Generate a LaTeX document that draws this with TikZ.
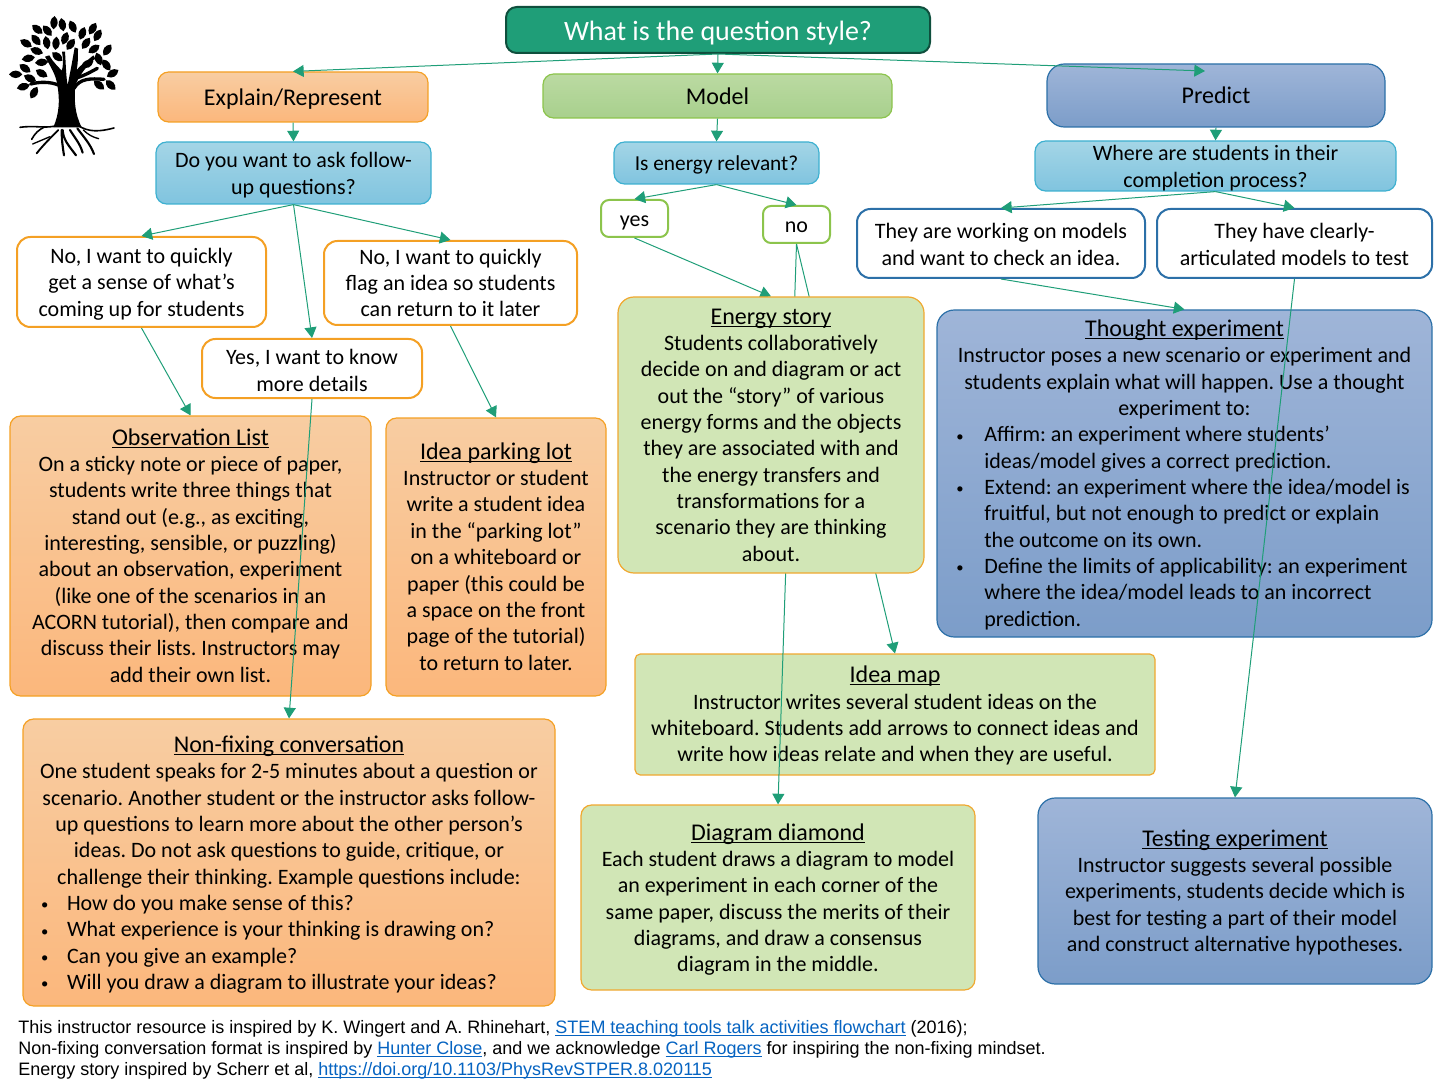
\documentclass[tikz,border=0pt]{standalone}
\usepackage{fontspec}
\setmainfont{Carlito}
\newfontfamily\footfont{Liberation Sans}
\usetikzlibrary{arrows.meta}
\pgfdeclarelayer{front}
\pgfsetlayers{main,front}

\definecolor{flowgreen}{HTML}{1F9E78}
\definecolor{topdark}{HTML}{0F4F3D}
\definecolor{orangeline}{HTML}{F4A024}
\definecolor{orangetop}{HTML}{F8CDA2}
\definecolor{orangebot}{HTML}{FBB77C}
\definecolor{limeline}{HTML}{8CC44C}
\definecolor{limetop}{HTML}{BBDAA2}
\definecolor{limebot}{HTML}{A8D08D}
\definecolor{paleline}{HTML}{F0A830}
\definecolor{palefill}{HTML}{D1E6B6}
\definecolor{blueline}{HTML}{2C70A8}
\definecolor{bluetop}{HTML}{9FB5D8}
\definecolor{bluebot}{HTML}{7C9DC9}
\definecolor{cyanline}{HTML}{3DB0D0}
\definecolor{cyantop}{HTML}{A4D5E6}
\definecolor{cyanbot}{HTML}{80C4DF}
\definecolor{linkblue}{HTML}{0563C1}

\newcommand\bodyfont{\fontsize{16.5}{19.75}\selectfont\frenchspacing}
\newcommand\headfont{\fontsize{18}{19.75}\selectfont}
\newcommand\ttl[1]{{\headfont\underline{\smash{#1}}}}
\newcommand\bul[1]{\makebox[\hsize][l]{\hspace{\bulx}\makebox[\bulgap][l]{\raisebox{0.5pt}{\fontsize{11}{11}\selectfont\textbullet}}#1}}
\newcommand\cont[1]{\makebox[\hsize][l]{\hspace{\bulx}\hspace{\bulgap}#1}}
\newcommand\lnk[1]{\textcolor{linkblue}{\underline{\smash{#1}}}}
\def\bulgap{21pt}
\def\bulx{14.5pt}

\tikzset{
  sz/.style 2 args={text width=#1*0.75pt,minimum height=#2*0.75pt},
  up/.style={execute at begin node={\rule{0pt}{#1}}},
  lift/.style={execute at end node={\rule[-#1]{0pt}{#1}}},
  basebox/.style={align=flush center,inner sep=0pt,rounded corners=8pt,font=\bodyfont,line width=0.9pt,up=14.5pt},
  topbox/.style={basebox,draw=topdark,line width=1.5pt,fill=flowgreen,text=white,font=\fontsize{21}{24}\selectfont,up=18.5pt},
  orangebox/.style={basebox,draw=orangeline,top color=orangetop,bottom color=orangebot},
  limebox/.style={basebox,draw=limeline,top color=limetop,bottom color=limebot},
  palebox/.style={basebox,draw=paleline,fill=palefill},
  bluebox/.style={basebox,draw=blueline,top color=bluetop,bottom color=bluebot,rounded corners=13pt},
  cyanbox/.style={basebox,draw=cyanline,top color=cyantop,bottom color=cyanbot},
  whiteorange/.style={basebox,draw=orangeline,line width=1.5pt,fill=white,rounded corners=10pt},
  whitelime/.style={basebox,draw=limeline,line width=1.5pt,fill=white,rounded corners=6pt},
  whiteblue/.style={basebox,draw=blueline,line width=1.5pt,fill=white,rounded corners=10pt},
  flow/.style={draw=flowgreen,line width=0.75pt,-{Triangle[length=8pt,width=9pt]}},
  root/.style={line width=#1,line cap=round,line join=round},
  root/.default=1pt
}

\begin{document}
\begin{tikzpicture}[x=0.75pt,y=-0.75pt]
\useasboundingbox (0,0) rectangle (1438,1080);

% tree
\begin{scope}[shift={(0,10)},x=0.25pt,y=-0.25pt]
\foreach \lx/\ly/\la in {162/38/85,187/44/100,218/50/115,112/58/140,142/62/130,247/70/70,278/56/60,293/76/60,
108/90/130,140/98/100,168/100/85,195/85/70,212/103/55,258/100/55,78/100/150,322/120/55,282/117/35,110/123/160,
85/145/10,125/157/5,172/140/140,296/147/110,262/162/25,319/165/125,338/190/30,75/175/145,47/193/0,125/190/150,
90/205/155,297/225/140,332/225/135,70/230/15,102/248/60}{
\fill[shift={(\lx,\ly)},rotate=\la] (-20,0) .. controls (-9,-15) and (9,-15) .. (20,0) .. controls (9,15) and (-9,15) .. (-20,0);
}
\fill (160,352) .. controls (178,310) and (180,270) .. (172,225) .. controls (168,195) and (152,170) .. (135,140)
  -- (148,136) .. controls (160,158) and (175,170) .. (185,182) .. controls (190,170) and (190,150) .. (186,125)
  -- (195,125) .. controls (198,170) and (198,200) .. (203,225) .. controls (208,200) and (216,160) .. (224,112)
  -- (234,116) .. controls (234,145) and (234,160) .. (230,180) .. controls (245,162) and (262,152) .. (280,136)
  -- (286,146) .. controls (262,165) and (242,190) .. (226,225) .. controls (222,270) and (224,310) .. (245,352) -- cycle;
\draw[root=2.5pt] (175,225) .. controls (150,215) and (120,215) .. (92,222);
\draw[root=2.5pt] (222,235) .. controls (240,205) and (270,205) .. (312,208);
\draw[root=2.5pt] (225,205) .. controls (245,200) and (265,190) .. (292,175);
\draw[root=1.2pt] (175,345) .. controls (140,358) and (110,345) .. (60,352);
\draw[root=1.2pt] (135,350) .. controls (115,360) and (105,370) .. (95,388);
\draw[root=1.4pt] (175,360) .. controls (150,385) and (130,405) .. (110,430);
\draw[root=1pt] (150,380) -- (98,402);
\draw[root=1.6pt] (188,360) .. controls (190,390) and (205,405) .. (228,436);
\draw[root=1.6pt] (185,360) .. controls (185,390) and (188,410) .. (192,436);
\draw[root=1.6pt] (210,360) .. controls (225,385) and (240,400) .. (248,428);
\draw[root=1.6pt] (232,355) .. controls (250,380) and (270,400) .. (282,432);
\draw[root=1.2pt] (232,345) .. controls (265,368) and (300,365) .. (342,354);
\draw[root=1pt] (250,360) .. controls (265,375) and (280,382) .. (296,386);
\end{scope}

% header and the three question styles
\node[topbox,sz={424}{46}] (q) at (718,30) {What is the question style?};
\node[orangebox,sz={270}{50},font=\headfont,up=16pt] (explain) at (293,97) {Explain/Represent};
\node[limebox,sz={349}{44},font=\headfont,lift=1.5pt] (model) at (717.5,96) {Model};
\node[bluebox,sz={338}{63},font=\headfont,lift=3pt] (predict) at (1216,95.5) {Predict};
\coordinate (predin) at (1205,71);

% questions
\node[cyanbox,sz={275}{62}] (ask) at (293.5,173) {Do you want to ask follow-\\up questions?};
\node[cyanbox,sz={205}{42},font=\fontsize{16}{18}\selectfont] (relevant) at (716.5,163) {Is energy relevant?};
\node[cyanbox,sz={361}{50}] (where) at (1215.5,166) {Where are students in their\\completion process?};

% answers
\node[whiteorange,sz={249}{90}] (quick) at (141.5,282) {No, I want to quickly\\get a sense of what’s\\coming up for students};
\node[whiteorange,sz={253}{84},lift=3pt] (flag) at (450.5,283) {No, I want to quickly\\flag an idea so students\\can return to it later};
\node[whiteorange,sz={220}{59}] (details) at (312,368.5) {Yes, I want to know\\more details};
\node[whitelime,sz={67}{37}] (yes) at (634.5,218.5) {yes};
\node[whitelime,sz={67}{37},lift=3pt] (no) at (796.5,224.5) {no};
\node[whiteblue,sz={288}{69},lift=1.5pt] (working) at (1001,243.5) {They are working on models\\and want to check an idea.};
\node[whiteblue,sz={275}{69},lift=1.5pt] (clearly) at (1294.5,243.5) {They have clearly-\\articulated models to test};

% activities
\node[orangebox,sz={361}{280},lift=3pt] (obs) at (190.5,556) {\ttl{Observation List}\\On a sticky note or piece of paper,\\students write three things that\\stand out (e.g., as exciting,\\interesting, sensible, or puzzling)\\about an observation, experiment\\(like one of the scenarios in an\\ACORN tutorial), then compare and\\discuss their lists. Instructors may\\add their own list.};
\node[orangebox,sz={220}{278},lift=3pt] (parking) at (496,557) {\ttl{Idea parking lot}\\Instructor or student\\write a student idea\\in the “parking lot”\\on a whiteboard or\\paper (this could be\\a space on the front\\page of the tutorial)\\to return to later.};
\node[orangebox,sz={532}{287},up=15.5pt] (fixing) at (289,862.5) {\def\bulx{13.5pt}\def\bulgap{19.5pt}\ttl{Non-fixing conversation}\\One student speaks for 2-5 minutes about a question or\\scenario. Another student or the instructor asks follow-\\up questions to learn more about the other person’s\\ideas. Do not ask questions to guide, critique, or\\challenge their thinking. Example questions include:\\\bul{How do you make sense of this?}\\\bul{What experience is your thinking is drawing on?}\\\bul{Can you give an example?}\\\bul{Will you draw a diagram to illustrate your ideas?}};
\begin{pgfonlayer}{front}
\node[palebox,sz={306}{276},rounded corners=12pt,lift=3pt] (energy) at (771,435) {\ttl{Energy story}\\Students collaboratively\\decide on and diagram or act\\out the “story” of various\\energy forms and the objects\\they are associated with and\\the energy transfers and\\transformations for a\\scenario they are thinking\\about.};
\end{pgfonlayer}
\node[palebox,sz={520}{121},rounded corners=4pt] (idea) at (895,714.5) {\ttl{Idea map}\\Instructor writes several student ideas on the\\whiteboard. Students add arrows to connect ideas and\\write how ideas relate and when they are useful.};
\node[palebox,sz={394}{185},up=15.5pt] (diamond) at (778,897.5) {\ttl{Diagram diamond}\\Each student draws a diagram to model\\an experiment in each corner of the\\same paper, discuss the merits of their\\diagrams, and draw a consensus\\diagram in the middle.};
\node[bluebox,sz={495}{327}] (thought) at (1184.5,473.5) {\ttl{Thought experiment}\\Instructor poses a new scenario or experiment and\\students explain what will happen. Use a thought\\experiment to:\\\bul{Affirm: an experiment where students’}\\\cont{ideas/model gives a correct prediction.}\\\bul{Extend: an experiment where the idea/model is}\\\cont{fruitful, but not enough to predict or explain}\\\cont{the outcome on its own.}\\\bul{Define the limits of applicability: an experiment}\\\cont{where the idea/model leads to an incorrect}\\\cont{prediction.}};
\node[bluebox,sz={394}{186}] (testing) at (1235,891) {\ttl{Testing experiment}\\Instructor suggests several possible\\experiments, students decide which is\\best for testing a part of their model\\and construct alternative hypotheses.};

% connectors
\draw[flow] (q.south)--(explain.north);
\draw[flow] (q.south)--(model.north);
\draw[flow] (q.south)--(predin);
\draw[flow] (explain.south)--(ask.north);
\draw[flow] (model.south)--(relevant.north);
\draw[flow] (predict.south)--(where.north);
\draw[flow] (ask.south)--(quick.north);
\draw[flow] (ask.south)--(flag.north);
\draw[flow] (ask.south)--(details.north);
\draw[flow] (relevant.south)--(yes.north);
\draw[flow] (relevant.south)--(no.north);
\draw[flow] (where.south)--(working.north);
\draw[flow] (where.south)--(clearly.north);
\draw[flow] (quick.south)--(obs.north);
\draw[flow] (flag.south)--(parking.north);
\draw[flow] (details.south)--(fixing.north);
\draw[flow] (yes.south)--(energy.north);
\draw[flow] (no.south)--(idea.north);
\draw[flow] (no.south)--(diamond.north);
\draw[flow] (working.south)--(thought.north);
\draw[flow] (clearly.south)--(testing.north);

% sources
\node[anchor=north west,inner sep=0pt,align=left,font=\footfont\fontsize{13.5}{15.75}\selectfont] (credits) at (18,1020) {This instructor resource is inspired by K. Wingert and A. Rhinehart, \lnk{STEM teaching tools talk activities flowchart} (2016);\\Non-fixing conversation format is inspired by \lnk{Hunter Close}, and we acknowledge \lnk{Carl Rogers} for inspiring the non-fixing mindset.\\Energy story inspired by Scherr et al, \lnk{https://doi.org/10.1103/PhysRevSTPER.8.020115}};
\end{tikzpicture}
\end{document}
